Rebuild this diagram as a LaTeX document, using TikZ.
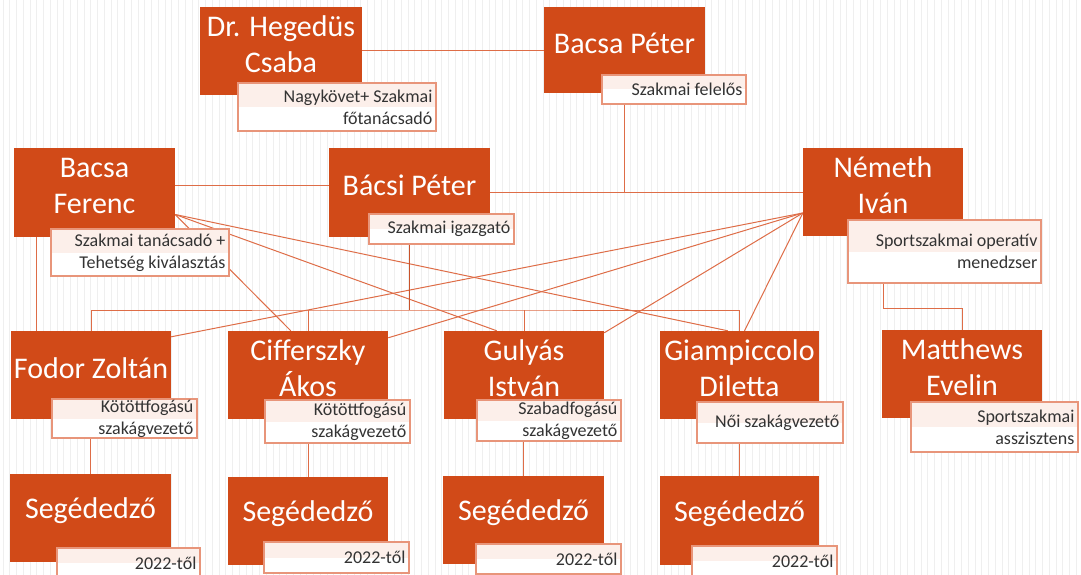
\documentclass[tikz,border=0pt]{standalone}
\usepackage{fontspec}
\setmainfont{Carlito}
\usetikzlibrary{calc,backgrounds}
\definecolor{boxor}{HTML}{D14A18}
\definecolor{lineor}{HTML}{DE6D47}
\definecolor{trunkor}{HTML}{C9532A}
\definecolor{labelbd}{HTML}{E8957A}
\definecolor{labeltint}{HTML}{FCEFEA}
\definecolor{labeltext}{HTML}{333333}
\definecolor{stripe}{HTML}{EFEFEF}
\newcommand\mkname[6]{%
  \node[namebox, minimum width={#4-#2}, minimum height={#5-#3}] (#1) at ({(#2+#4)/2},{(#3+#5)/2}) {};
  \node[nametext] (#1t) at ([yshift=7pt]#1.center) {#6};}
\newcommand\mktag[6]{%
  \node[tagbox, minimum width={#4-#2}, minimum height={#5-#3}] (#1) at ({(#2+#4)/2},{(#3+#5)/2}) {};
  \node[tagtext] (#1t) at ([xshift=-4pt]#1.east) {#6};}
\begin{document}
\begin{tikzpicture}[x=1pt,y=-1pt,
  namebox/.style={fill=boxor, draw=none, inner sep=0pt},
  nametext/.style={text=white, font=\fontsize{30}{36}\selectfont, align=center, inner sep=0pt},
  tagbox/.style={fill=white, draw=labelbd, line width=1.2pt, inner sep=0pt,
    path picture={\fill[labeltint] (path picture bounding box.north west) rectangle (path picture bounding box.east);}},
  tagtext/.style={text=labeltext, font=\fontsize{18}{22}\selectfont, align=right, inner sep=0pt, anchor=east},
  conn/.style={draw=lineor, line width=1pt},
  trunk/.style={draw=trunkor, line width=1.6pt},
]
\useasboundingbox (0,0) rectangle (1081,575);
\clip (0,0) rectangle (1081,575);
\begin{pgfonlayer}{background}
\fill[white] (0,0) rectangle (1081,575);
\foreach \i in {0,...,160} \draw[stripe, line width=1pt] ({\i*6.75+3},0) -- ({\i*6.75+3},575);
\end{pgfonlayer}

\mkname{hc}{200}{7}{362}{95}{Dr. Hegedüs\\Csaba}
\mkname{bp}{544}{7}{705}{93}{Bacsa Péter}
\mkname{bf}{14}{148}{175}{237}{Bacsa\\Ferenc}
\mkname{bacsi}{329}{148}{490}{237}{Bácsi Péter}
\mkname{nem}{803}{148}{963}{236}{Németh\\Iván}
\mkname{fz}{11}{331}{171}{419}{Fodor Zoltán}
\mkname{ca}{228}{331}{388}{419}{Cifferszky\\Ákos}
\mkname{gi}{444}{331}{604}{419}{Gulyás\\István}
\mkname{gd}{660}{331}{819}{419}{Giampiccolo\\Diletta}
\mkname{me}{882}{330}{1042}{418}{Matthews\\Evelin}
\mkname{sa}{10}{474}{171}{562}{Segédedző}
\mkname{sb}{228}{477}{388}{565}{Segédedző}
\mkname{sc}{443}{476}{604}{564}{Segédedző}
\mkname{sd}{660}{476}{819}{565}{Segédedző}

\mktag{hcl}{238}{83}{436}{131}{Nagykövet+ Szakmai\\főtanácsadó}
\mktag{bpl}{602}{75}{746}{104}{Szakmai felelős}
\mktag{bfl}{51}{229}{229}{276}{Szakmai tanácsadó +\\Tehetség kiválasztás}
\mktag{bacsil}{369}{214}{514}{244}{Szakmai igazgató}
\mktag{neml}{848}{220}{1041}{283}{Sportszakmai operatív\\menedzser}
\mktag{fzl}{52}{399}{197}{438}{Kötöttfogású\\szakágvezető}
\mktag{cal}{265}{400}{410}{443}{Kötöttfogású\\szakágvezető}
\mktag{gil}{477}{400}{621}{441}{Szabadfogású\\szakágvezető}
\mktag{gdl}{697}{402}{843}{443}{Női szakágvezető}
\mktag{mel}{911}{402}{1078}{452}{Sportszakmai\\asszisztens}
\mktag{sal}{57}{548}{200}{578}{2022-től}
\mktag{sbl}{264}{542}{409}{573}{2022-től}
\mktag{scl}{476}{544}{621}{574}{2022-től}
\mktag{sdl}{692}{546}{837}{576}{2022-től}

\begin{pgfonlayer}{background}
% top row
\draw[conn] (hc.east) -- (hc.east -| bp.west);
\draw[conn] (bp.center |- bpl.south) -- (bp.center |- bacsi.east);
% middle row
\draw[conn] ([yshift=7pt]bf.east) -- ([yshift=7pt]bf.east -| bacsi.west);
\draw[conn] (bacsi.east) -- (bacsi.east -| nem.west);
\draw[conn] ([xshift=23pt]bf.south west) -- ([xshift=26pt]fz.north west);
% diagonals from Németh Iván
\coordinate (nsrc) at ([yshift=-21pt]nem.west);
\draw[conn] (nsrc) -- ([yshift=-6pt]fz.north east);
\draw[conn] (nsrc) -- ([yshift=-7pt]ca.north east);
\draw[conn] (nsrc) -- ([yshift=-2pt]gi.north east);
\draw[conn] (nsrc) -- ([xshift=5pt]gd.north);
% diagonals from Bacsa Ferenc
\coordinate (bsrc) at ([yshift=-22pt]bf.east);
\draw[conn] (bsrc) -- ([xshift=63pt]ca.north west);
\draw[conn] (bsrc) -- ([xshift=53pt]gi.north west);
\draw[conn] (bsrc) -- ([xshift=68pt]gd.north west);
% bus under Bácsi Péter
\coordinate (bus) at (409,310);
\draw[trunk] (bacsi.center |- bacsil.south) -- (bacsi.center |- bus);
\draw[conn] (fz.north) |- (bus) -| (gd.north);
\draw[conn] (ca.north) -- (ca.north |- bus);
\draw[conn] (gi.north) -- (gi.north |- bus);
% Németh Iván to Matthews Evelin
\coordinate (nbus) at (962,308);
\draw[conn] (nem.center |- neml.south) |- (nbus) -- (me.north);
% assistants
\draw[conn] (sa.north |- fzl.south) -- (sa.north);
\draw[conn] (sb.north |- cal.south) -- (sb.north);
\draw[conn] (sc.north |- gil.south) -- (sc.north);
\draw[conn] (sd.north |- gdl.south) -- (sd.north);
\end{pgfonlayer}
\end{tikzpicture}
\end{document}
